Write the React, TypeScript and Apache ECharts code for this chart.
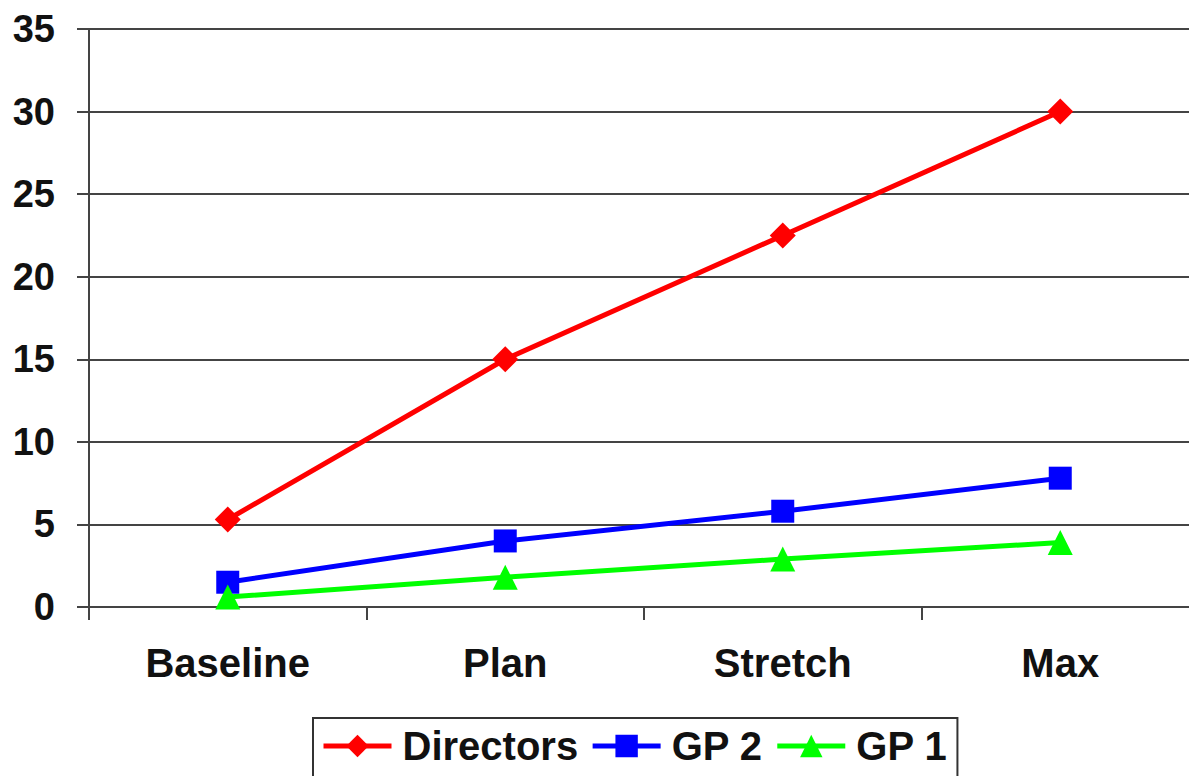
import React, { useEffect, useRef } from "react";
import * as echarts from "echarts";

const categories = ["Baseline", "Plan", "Stretch", "Max"];
const directors = [5.3, 15, 22.5, 30];
const gp2 = [1.5, 4, 5.8, 7.8];
const gp1 = [0.6, 1.8, 2.9, 3.9];
const seriesNames = ["Directors", "GP 2", "GP 1"];

const FONT = "Arial, 'Liberation Sans', sans-serif";

export default function App() {
  const ref = useRef<HTMLDivElement>(null);
  useEffect(() => {
    if (!ref.current) return;
    const chart = echarts.init(ref.current, null, { renderer: "svg" });
    const mk = (name: string, data: number[], color: string, symbol: string, size: number) => ({
      name,
      type: "line",
      data,
      symbol,
      symbolSize: size,
      lineStyle: { color, width: 5 },
      itemStyle: { color, borderWidth: 0 },
      emphasis: { disabled: true },
    });
    chart.setOption({
      animation: false,
      backgroundColor: "#ffffff",
      textStyle: { fontFamily: FONT },
      grid: { left: 89, right: 11, top: 29, bottom: 169, containLabel: false },
      xAxis: {
        type: "category",
        data: categories,
        boundaryGap: true,
        axisLine: { lineStyle: { color: "#444", width: 2 } },
        axisTick: { show: true, length: 13, lineStyle: { color: "#444", width: 2 } },
        axisLabel: {
          margin: 36,
          fontSize: 40,
          fontWeight: "bold",
          color: "#111",
          fontFamily: FONT,
        },
      },
      yAxis: {
        type: "value",
        min: 0,
        max: 35,
        interval: 5,
        axisLine: { show: true, lineStyle: { color: "#444", width: 2 } },
        axisTick: { show: true, length: 12, lineStyle: { color: "#444", width: 2 } },
        splitLine: { show: true, lineStyle: { color: "#444", width: 2 } },
        axisLabel: {
          margin: 34,
          fontSize: 38,
          fontWeight: "bold",
          color: "#111",
          fontFamily: FONT,
        },
      },
      legend: {
        data: seriesNames,
        left: 313,
        top: 718,
        orient: "horizontal",
        itemWidth: 68,
        itemHeight: 28,
        itemGap: 12,
        padding: [8, 10, 30, 8],
        borderColor: "#333",
        borderWidth: 2,
        backgroundColor: "#fff",
        lineStyle: { width: 5 },
        textStyle: {
          fontSize: 40,
          fontWeight: "bold",
          color: "#111",
          fontFamily: FONT,
          padding: [0, 0, 0, 6],
        },
      },
      series: [
        mk(seriesNames[0], directors, "#ff0000", "diamond", 26),
        mk(seriesNames[1], gp2, "#0000ff", "rect", 23),
        mk(seriesNames[2], gp1, "#00ff00", "triangle", 25),
      ],
    });
    return () => chart.dispose();
  }, []);
  return (
    <div
      style={{
        position: "absolute",
        left: 0,
        top: 0,
        width: 1189,
        height: 776,
        overflow: "hidden",
        background: "#fff",
      }}
    >
      <div ref={ref} style={{ width: 1210, height: 776 }} />
    </div>
  );
}
